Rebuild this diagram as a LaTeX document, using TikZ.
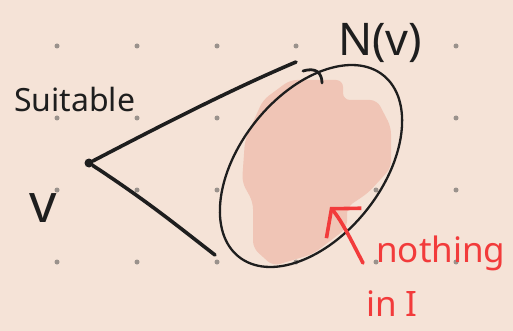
\documentclass[tikz,border=0pt]{standalone}
\usepackage{fontspec}
\setmainfont{Noto Sans}
\usetikzlibrary{shapes.geometric,arrows.meta}
\definecolor{paper}{HTML}{F5E3D7}
\definecolor{blob}{HTML}{F0C5B6}
\definecolor{ink}{HTML}{1E1E1E}
\definecolor{redink}{HTML}{F23B3B}
\definecolor{dotgray}{HTML}{9A928C}

\begin{document}
\begin{tikzpicture}[x=1pt,y=-1pt,line cap=round,line join=round,
    pen/.style={ink,line width=3.6pt},
    redpen/.style={redink,line width=3.6pt},
    hand/.style={inner sep=0,anchor=base west}]
    \fill[paper] (0,0) rectangle (513,331);
    \useasboundingbox (0,0) rectangle (513,331);
    \foreach \x in {57,137,217,296,376,456} {
        \foreach \y in {46,118,190,262} {\fill[dotgray] (\x,\y) circle (2.5);}}

    % shaded part of the neighbourhood
    \fill[blob,rounded corners=7] (290,80) -- (343,80) -- (343,100) -- (377,100)
        -- (391,127) -- (391,168) -- (368,193) -- (347,207) -- (347,228)
        -- (313,254) -- (273,266) -- (253,248) -- (253,202) -- (242,182)
        -- (245,140) -- (263,100) -- cycle;

    \node[draw=ink,line width=2.3pt,ellipse,minimum width=232pt,minimum height=142pt,
        inner sep=0,rotate=51.5] (nbhd) at (311,166) {};

    \node[circle,fill=ink,inner sep=0,minimum size=9pt] (v) at (89,163) {};
    \coordinate (uptop) at (296,62);
    \coordinate (lowend) at (215,255);
    \draw[pen] (v) .. controls (160,126) and (230,90) .. (uptop);
    \draw[pen] (v) .. controls (150,203) and (180,228) .. (lowend);

    \coordinate (hook) at (303,71);
    \coordinate (hookend) at (322,83);
    \draw[ink,line width=2.8pt] (hook) .. controls (316,67) and (322,73) .. (hookend);

    \node[hand,ink,font=\fontsize{32}{36}\selectfont] (suitable) at (14,112) {Suitable};
    \node[hand,ink,font=\fontsize{54}{58}\selectfont] (vlabel) at (29,222) {v};
    \node[hand,ink,font=\fontsize{45}{50}\selectfont] (nvlabel) at (338,56) {N(v)};

    \coordinate (arrowtail) at (363,263);
    \coordinate (arrowtip) at (330,207);
    \draw[redpen,-{Straight Barb[length=19pt,width=46pt]}] (arrowtail)
        .. controls (352,242) and (342,221) .. (arrowtip);
    \node[hand,redink,font=\fontsize{35}{38}\selectfont] (nothing) at (376,262) {nothing};
    \node[hand,redink,font=\fontsize{35}{38}\selectfont] (inI) at (366,316) {in I};
\end{tikzpicture}
\end{document}
